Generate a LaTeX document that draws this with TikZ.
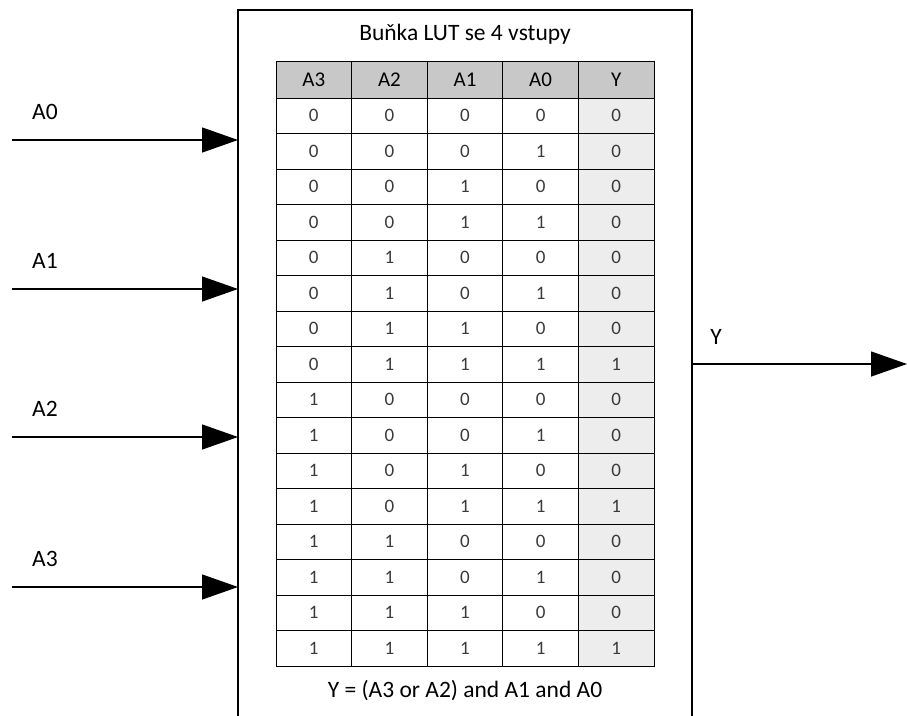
\documentclass[tikz,border=0pt]{standalone}
\usepackage{fontspec}
\setmainfont{Carlito}
\usetikzlibrary{arrows.meta}
\definecolor{hdr}{HTML}{C8C8C8}
\definecolor{ycol}{HTML}{EDEDED}
\definecolor{dig}{HTML}{3A3A3A}
\tikzset{
  cell/.style={draw=black, line width=1pt, minimum width=75.6pt, minimum height=35.5pt, inner sep=0pt, text=dig, font=\fontsize{19}{19}\selectfont},
  hcell/.style={draw=black, line width=1pt, fill=hdr, minimum width=75.6pt, minimum height=37pt, inner sep=0pt, font=\fontsize{21}{21}\selectfont},
  lbl/.style={font=\fontsize{23.5}{23.5}\selectfont, inner sep=0pt},
  arr/.style={line width=1.3pt, -{Triangle[length=36pt, width=25pt]}}
}
\begin{document}
\begin{tikzpicture}[x=1pt,y=-1pt]
\useasboundingbox (0,0) rectangle (907,715);
% LUT box (open at bottom)
\draw[line width=1.3pt] (238,716) -- (238,10) -- (692,10) -- (692,716);
\node[lbl] (title) at (465,34) {Buňka LUT se 4 vstupy};
\node[lbl] (eq) at (465,691) {Y = (A3 or A2) and A1 and A0};
% header
\foreach \t [count=\i from 0] in {A3,A2,A1,A0,Y}
  \node[hcell] (h\i) at ({276+75.6*(\i+0.5)},79.5) {\t};
% rows
\foreach \r/\a/\b/\c/\d/\y in {0/0/0/0/0/0,1/0/0/0/1/0,2/0/0/1/0/0,3/0/0/1/1/0,4/0/1/0/0/0,5/0/1/0/1/0,6/0/1/1/0/0,7/0/1/1/1/1,8/1/0/0/0/0,9/1/0/0/1/0,10/1/0/1/0/0,11/1/0/1/1/1,12/1/1/0/0/0,13/1/1/0/1/0,14/1/1/1/0/0,15/1/1/1/1/1}{
  \node[cell] (c\r-0) at ({276+75.6*0.5},{98+35.5*(\r+0.5)}) {\a};
  \node[cell] (c\r-1) at ({276+75.6*1.5},{98+35.5*(\r+0.5)}) {\b};
  \node[cell] (c\r-2) at ({276+75.6*2.5},{98+35.5*(\r+0.5)}) {\c};
  \node[cell] (c\r-3) at ({276+75.6*3.5},{98+35.5*(\r+0.5)}) {\d};
  \node[cell, fill=ycol] (c\r-4) at ({276+75.6*4.5},{98+35.5*(\r+0.5)}) {\y};
}
% inputs
\foreach \n/\yy in {0/140,1/289,2/437,3/587}{
  \coordinate (in\n) at (12,\yy);
  \coordinate (pin\n) at (238,\yy);
  \draw[arr] (in\n) -- (pin\n);
  \node[lbl] (la\n) at (45,{\yy-28}) {A\n};
}
% output
\coordinate (pout) at (692,364);
\coordinate (out) at (907,364);
\draw[arr] (pout) -- (out);
\node[lbl] (ly) at (716,337) {Y};
\end{tikzpicture}
\end{document}
